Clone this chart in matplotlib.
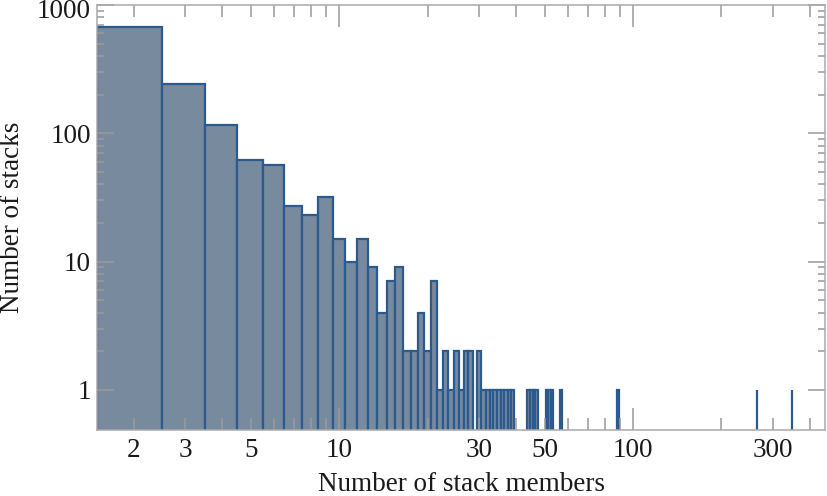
import numpy as np
import matplotlib.pyplot as plt
from matplotlib.ticker import FixedLocator, FuncFormatter

# stack size (members) and how many stacks have that size
members = np.array([2, 3, 4, 5, 6, 7, 8, 9, 10, 11, 12, 13, 14, 15, 16, 17, 18, 19, 20,
                    21, 22, 23, 24, 25, 26, 27, 28,
                    30, 31, 32, 33, 34, 35, 36, 37, 38, 39,
                    44, 45, 46, 47, 51, 52, 53, 57, 89, 264, 348])
stacks = np.array([670, 241, 116, 62, 57, 27, 23, 32, 15, 10, 15, 9, 4, 7, 9, 2, 2, 4, 2,
                   7, 1, 2, 1, 2, 1, 2, 2,
                   2, 1, 1, 1, 1, 1, 1, 1, 1, 1,
                   1, 1, 1, 1, 1, 1, 1, 1, 1, 1, 1])

x_long = [10, 100]
x_labelled = [2, 3, 5, 10, 30, 50, 100, 300]
y_major = [1, 10, 100, 1000]

plt.rcParams['font.family'] = ['Liberation Serif', 'DejaVu Serif']
plt.rcParams['font.size'] = 19.5

fig = plt.figure(figsize=(8.27, 4.96), dpi=100)
ax = fig.add_axes([97/827, 1 - 429.5/496, 728/827, 424.5/496])

ax.bar(members, stacks, width=1.0, color='#788a9e', edgecolor='#2b5b8e', linewidth=1.6)

ax.set_xscale('log')
ax.set_yscale('log')
ax.set_xlim(1.5, 450)
ax.set_ylim(0.49, 1000)

# x ticks: long ones at decades, short ones elsewhere (some labelled)
x_minor = [m * d for d in (1, 10, 100) for m in range(2, 10) if m * d not in x_long and m * d < 450]
ax.xaxis.set_major_locator(FixedLocator(x_long))
ax.xaxis.set_minor_locator(FixedLocator(x_minor))
ax.xaxis.set_major_formatter(FuncFormatter(lambda v, p: '%d' % v))
ax.xaxis.set_minor_formatter(FuncFormatter(lambda v, p: '%d' % v if round(v) in x_labelled else ''))

y_minor = [m * d for d in (1, 10, 100) for m in range(2, 10)]
ax.yaxis.set_major_locator(FixedLocator(y_major))
ax.yaxis.set_minor_locator(FixedLocator(y_minor))
ax.yaxis.set_major_formatter(FuncFormatter(lambda v, p: '' if v >= 1000 else '%d' % v))
ax.yaxis.set_minor_formatter(FuncFormatter(lambda v, p: ''))

tick_col = '#9a9a9a'
ax.tick_params(which='both', direction='in', top=True, right=True, color=tick_col, width=1.1,
               labelcolor='#1a1a1a')
ax.tick_params(axis='x', which='major', length=15.8, pad=5.8)
ax.tick_params(axis='x', which='minor', length=8.4, pad=5.8)
ax.tick_params(axis='y', which='major', length=12.2, pad=4.5)
ax.tick_params(axis='y', which='minor', length=5.0)

# top label sits inside the frame, like the original
ax.annotate('1000', xy=(0, 1000), xycoords=('axes fraction', 'data'), xytext=(-4.5, 4),
            textcoords='offset points', ha='right', va='top', color='#1a1a1a')

for s in ax.spines.values():
    s.set_color('#aaaaaa')
    s.set_linewidth(1.1)

ax.set_xlabel('Number of stack members', color='#1a1a1a')
ax.set_ylabel('Number of stacks', color='#1a1a1a')
ax.xaxis.set_label_coords(0.5, -0.1)
ax.yaxis.set_label_coords(-0.099, 0.5)

fig.savefig('out.png', dpi=100)
